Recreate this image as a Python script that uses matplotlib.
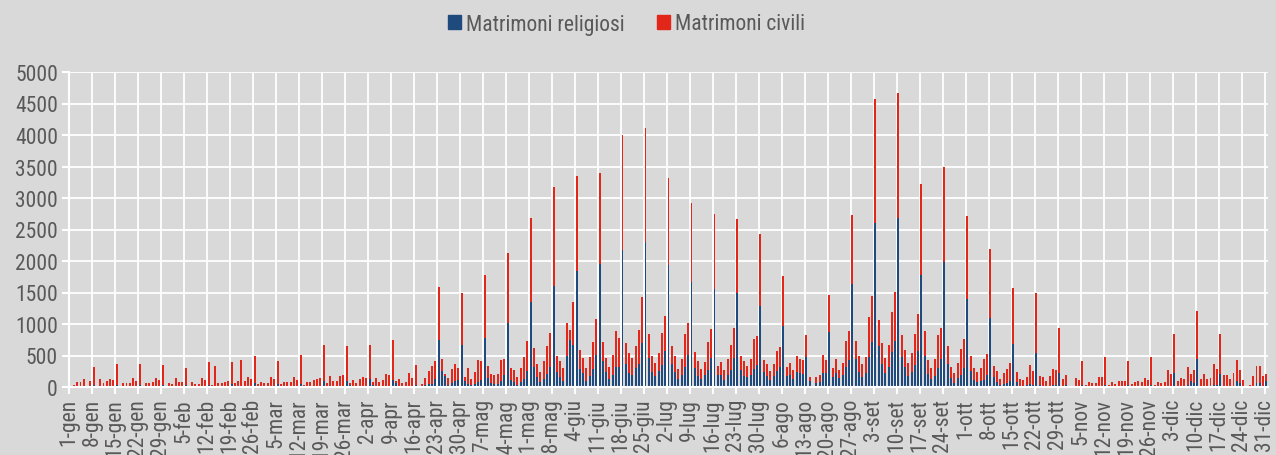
import matplotlib as mpl
mpl.use('Agg')

import matplotlib.pyplot as plt
from matplotlib.patches import Patch
import numpy as np

bg_color = '#d9d9d9'
text_color = '#595959'
blue = '#1f4a7e'
red = '#e2261a'

plt.rcParams['font.family'] = ['Roboto Condensed', 'DejaVu Sans']

mesi = ['gen', 'feb', 'mar', 'apr', 'mag', 'giu', 'lug', 'ago', 'set', 'ott', 'nov', 'dic']
giorni_mese = [31, 28, 31, 30, 31, 30, 31, 31, 30, 31, 30, 31]

# one row per week, Saturday to Friday (1-gen is a Saturday)
religiosi = [
    0, 5, 5, 5, 5, 0, 5,
    30, 15, 5, 5, 5, 5, 5,
    30, 10, 5, 5, 5, 5, 5,
    30, 10, 5, 5, 5, 5, 5,
    30, 10, 5, 5, 5, 5, 5,
    30, 10, 5, 5, 5, 5, 5,
    35, 10, 15, 5, 5, 5, 5,
    40, 20, 5, 15, 5, 5, 10,
    60, 15, 5, 5, 5, 10, 10,
    40, 15, 5, 5, 5, 10, 5,
    50, 10, 5, 5, 5, 10, 10,
    100, 20, 10, 5, 5, 10, 15,
    90, 25, 10, 5, 10, 10, 10,
    130, 30, 10, 5, 10, 15, 15,
    110, 60, 10, 5, 5, 15, 10,
    30, 0, 20, 25, 40, 55, 125,
    750, 250, 170, 38, 65, 90, 118,
    660, 90, 55, 38, 55, 75, 118,
    785, 135, 65, 48, 55, 90, 183,
    1018, 118, 75, 38, 75, 130, 250,
    1345, 310, 160, 75, 130, 200, 320,
    1610, 235, 160, 90, 500, 740, 660,
    1845, 290, 217, 95, 180, 280, 503,
    1955, 413, 244, 122, 196, 313, 313,
    2168, 366, 228, 185, 307, 360, 700,
    2295, 466, 238, 175, 254, 345, 578,
    1940, 366, 244, 132, 190, 323, 509,
    1659, 307, 180, 132, 185, 270, 456,
    1548, 185, 185, 117, 185, 270, 466,
    1490, 270, 180, 154, 196, 281, 355,
    1293, 244, 175, 117, 180, 260, 318,
    965, 180, 185, 127, 244, 217, 212,
    482, 95, 5, 69, 85, 217, 217,
    880, 164, 217, 138, 191, 323, 429,
    1638, 445, 244, 164, 217, 482, 721,
    2602, 652, 371, 217, 313, 557, 737,
    2687, 472, 318, 180, 244, 350, 567,
    1781, 488, 212, 132, 175, 297, 440,
    1977, 366, 148, 69, 138, 191, 297,
    1394, 254, 111, 85, 95, 111, 191,
    1102, 154, 80, 32, 48, 58, 101,
    684, 85, 20, 20, 25, 40, 35,
    535, 30, 20, 15, 20, 25, 25,
    228, 20, 25, 0, 0, 15, 10,
    25, 5, 5, 5, 5, 10, 10,
    25, 5, 5, 5, 5, 5, 5,
    25, 5, 5, 5, 5, 5, 5,
    25, 5, 5, 5, 5, 20, 20,
    217, 10, 10, 10, 30, 90, 70,
    440, 10, 15, 10, 15, 30, 30,
    201, 15, 15, 10, 15, 101, 69,
    10, 0, 5, 15, 69, 69, 15,
    101,
]

# height of the stack (religiosi + civili)
totale = [
    5, 25, 85, 75, 130, 5, 95,
    310, 20, 120, 70, 95, 120, 105,
    370, 20, 60, 60, 60, 135, 90,
    360, 20, 60, 60, 80, 135, 105,
    345, 20, 70, 40, 135, 85, 85,
    300, 20, 75, 45, 45, 135, 105,
    400, 25, 340, 60, 70, 85, 90,
    390, 60, 100, 425, 95, 160, 130,
    490, 40, 85, 65, 65, 165, 130,
    410, 40, 80, 80, 85, 165, 110,
    505, 30, 85, 75, 105, 125, 140,
    665, 60, 170, 95, 90, 180, 185,
    655, 70, 110, 65, 130, 165, 140,
    665, 80, 135, 75, 110, 210, 195,
    745, 100, 125, 70, 75, 230, 150,
    350, 10, 55, 145, 250, 330, 415,
    1580, 440, 210, 145, 280, 360, 305,
    1490, 160, 295, 130, 235, 425, 415,
    1770, 333, 210, 183, 200, 425, 450,
    2125, 295, 263, 155, 305, 470, 725,
    2690, 615, 360, 240, 405, 645, 860,
    3170, 495, 410, 295, 1010, 905, 1350,
    3350, 580, 466, 307, 482, 710, 1086,
    3400, 720, 466, 318, 514, 895, 785,
    3996, 694, 540, 466, 652, 906, 1425,
    4118, 848, 498, 382, 535, 853, 1124,
    3318, 652, 498, 281, 445, 843, 1018,
    2915, 556, 413, 292, 392, 715, 928,
    2750, 334, 403, 270, 440, 668, 938,
    2666, 493, 419, 339, 450, 758, 811,
    2427, 429, 366, 260, 360, 578, 631,
    1754, 323, 387, 270, 498, 450, 429,
    822, 154, 16, 164, 185, 509, 429,
    1468, 297, 445, 270, 376, 731, 890,
    2735, 737, 493, 371, 477, 1113, 1447,
    4574, 1071, 694, 466, 663, 1193, 1511,
    4659, 822, 594, 376, 535, 848, 1161,
    3222, 885, 424, 307, 445, 822, 938,
    3493, 652, 318, 223, 376, 604, 758,
    2708, 493, 302, 244, 307, 445, 530,
    2194, 334, 260, 127, 228, 292, 387,
    1569, 244, 122, 111, 159, 345, 260,
    1489, 175, 154, 101, 175, 286, 270,
    933, 122, 185, 5, 10, 138, 106,
    413, 32, 80, 69, 69, 164, 164,
    477, 32, 74, 53, 95, 101, 101,
    419, 42, 80, 90, 80, 138, 111,
    477, 26, 80, 69, 85, 270, 212,
    843, 90, 148, 127, 323, 212, 270,
    1203, 127, 207, 127, 143, 371, 286,
    843, 185, 196, 127, 217, 429, 270,
    106, 0, 37, 175, 339, 334, 180,
    201,
]

religiosi = np.array(religiosi)
civili = np.array(totale) - religiosi

etichette = [f'{g}-{m}' for m, n in zip(mesi, giorni_mese) for g in range(1, n + 1)]
n_giorni = len(etichette)
giorni = np.arange(n_giorni)
tick_pos = np.arange(0, n_giorni, 7)

fig = plt.figure(figsize=(12.76, 4.56), dpi=100, facecolor=bg_color)
ax = fig.add_axes([69 / 1276, 1 - 388 / 456, (1268 - 69) / 1276, (388 - 73) / 456])
ax.set_facecolor(bg_color)

ax.bar(giorni + 0.5, religiosi, width=0.6, color=blue, linewidth=0)
ax.bar(giorni + 0.5, civili, width=0.6, bottom=religiosi, color=red, linewidth=0)

ax.set_xlim(0, n_giorni)
ax.set_ylim(0, 5000)
ax.set_yticks(np.arange(0, 5001, 500))
ax.set_xticks(tick_pos)
ax.set_xticklabels([etichette[i] for i in tick_pos], rotation=90)

ax.set_axisbelow(True)
ax.grid(True, color='white', linewidth=1.3)
for side in ['top', 'right']:
    ax.spines[side].set_visible(False)
for side in ['left', 'bottom']:
    ax.spines[side].set_color('white')
    ax.spines[side].set_linewidth(1.5)
ax.tick_params(axis='both', colors='white', labelcolor=text_color, labelsize=15.5,
               length=5, width=1.5, pad=3)

# Legend
handles = [Patch(color=blue, label='Matrimoni religiosi'),
           Patch(color=red, label='Matrimoni civili')]
leg = fig.legend(handles=handles, loc='center', bbox_to_anchor=(0.491, 1 - 25 / 456), ncol=2,
                 frameon=False, fontsize=15.5, handlelength=0.6, handleheight=0.6,
                 handletextpad=0.25, columnspacing=1.5)
for t in leg.get_texts():
    t.set_color(text_color)

fig.savefig('out.png', dpi=100, facecolor=fig.get_facecolor())
